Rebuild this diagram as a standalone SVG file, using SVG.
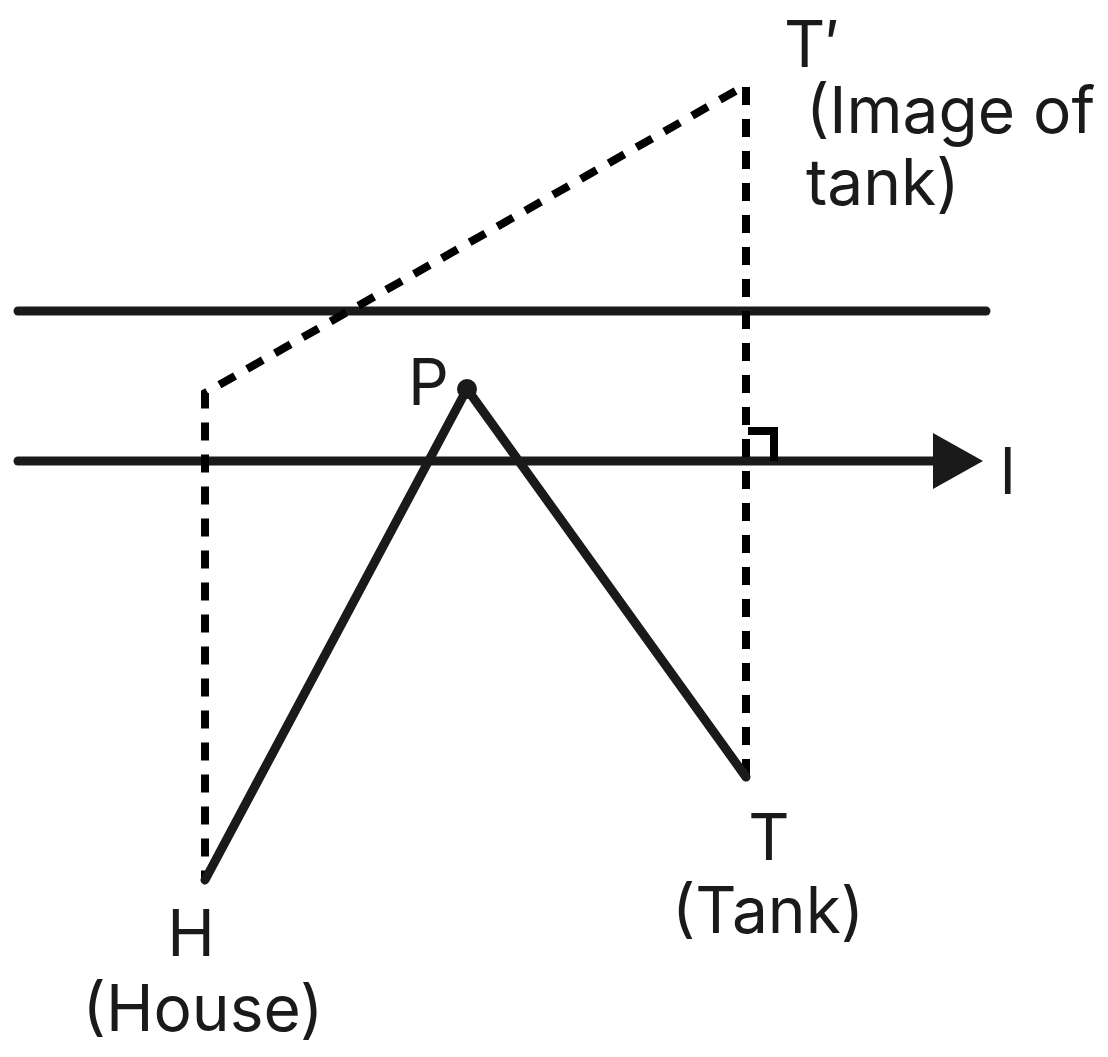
<svg xmlns="http://www.w3.org/2000/svg" width="1108" height="1057" viewBox="0 0 1108 1057">
<style>
.solid{stroke:#1a1a1a;stroke-width:9;fill:none;stroke-linecap:round;stroke-linejoin:round}
.dash{stroke:#000;stroke-width:8;fill:none;stroke-dasharray:18 14;stroke-linecap:butt}
.lbl{font-family:Inter,"Liberation Sans",sans-serif;font-size:64px;fill:#1a1a1a}
</style>
<defs>
<marker id="arr" markerUnits="userSpaceOnUse" markerWidth="52" markerHeight="60" refX="2" refY="30" orient="auto">
<path d="M0,2 L50,30 L0,58 Z" fill="#1a1a1a"/>
</marker>
</defs>
<rect width="1108" height="1057" fill="#fff"/>
<g id="connectors">
<line class="solid" x1="18" y1="311" x2="986" y2="311"/>
<line class="solid" x1="18" y1="461" x2="935" y2="461" marker-end="url(#arr)"/>
<path class="dash" d="M746,777 V85 L205,393 V880"/>
<polyline points="748,431 774,431 774,461" fill="none" stroke="#000" stroke-width="8"/>
<polyline class="solid" points="205,880 467,389 746,777"/>
</g>
<g id="node-P"><circle cx="467" cy="389" r="10" fill="#1a1a1a"/><text class="lbl" x="408" y="405">P</text></g>
<g id="node-H"><text class="lbl" x="191" y="956" text-anchor="middle">H</text><text class="lbl" x="203" y="1031" text-anchor="middle">(House)</text></g>
<g id="node-T"><text class="lbl" x="769" y="860" text-anchor="middle">T</text><text class="lbl" x="768" y="933" text-anchor="middle">(Tank)</text></g>
<g id="node-Tp"><text class="lbl" x="784" y="67">T′</text><text class="lbl" x="806" y="133">(Image of</text><text class="lbl" x="806" y="205">tank)</text></g>
<g id="label-l"><text class="lbl" x="1000" y="494">l</text></g>
</svg>
